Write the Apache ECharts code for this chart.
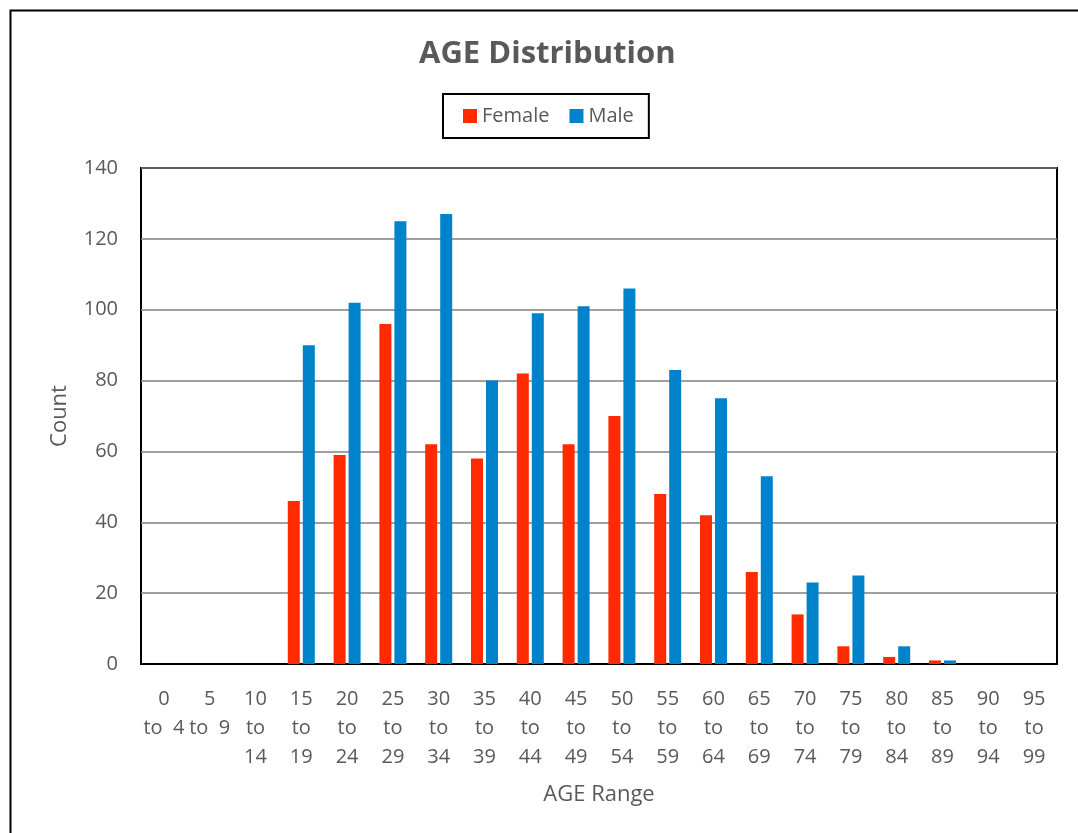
<!DOCTYPE html>
<html>
<head>
<meta charset="utf-8">
<script src="https://cdn.jsdelivr.net/npm/echarts@6/dist/echarts.min.js"></script>
<style>
html,body{margin:0;padding:0;background:#fff;}
#chart{width:1078px;height:833px;}
</style>
</head>
<body>
<div id="chart"></div>
<script>
const categories = ["0 to 4","5 to 9","10 to 14","15 to 19","20 to 24","25 to 29","30 to 34","35 to 39","40 to 44","45 to 49","50 to 54","55 to 59","60 to 64","65 to 69","70 to 74","75 to 79","80 to 84","85 to 89","90 to 94","95 to 99"];
const tickLabels = ["0\nto  4","5\nto  9","10\nto\n14","15\nto\n19","20\nto\n24","25\nto\n29","30\nto\n34","35\nto\n39","40\nto\n44","45\nto\n49","50\nto\n54","55\nto\n59","60\nto\n64","65\nto\n69","70\nto\n74","75\nto\n79","80\nto\n84","85\nto\n89","90\nto\n94","95\nto\n99"];
const female = [0,0,0,46,59,96,62,58,82,62,70,48,42,26,14,5,2,1,0,0];
const male = [0,0,0,90,102,125,127,80,99,101,106,83,75,53,23,25,5,1,0,0];
const yTicks = [0,20,40,60,80,100,120,140];

const FONT = "'Open Sans', sans-serif";
const GREY = '#595959';
const chart = echarts.init(document.getElementById('chart'), null, {renderer:'canvas'});
chart.setOption({
  animation: false,
  backgroundColor: '#fff',
  graphic: [{
    type: 'rect', left: 8, top: 8, silent: true,
    shape: {width: 1200, height: 1000},
    style: {fill: 'none', stroke: '#000', lineWidth: 2}
  }],
  title: {
    text: 'AGE Distribution',
    left: 419, top: 39, padding: 0,
    textStyle: {fontFamily: FONT, fontWeight: 'bold', fontSize: 31, color: GREY}
  },
  legend: {
    data: ['Female','Male'],
    left: 443, top: 94,
    padding: [12, 15, 12, 20],
    borderColor: '#000', borderWidth: 2,
    itemWidth: 14, itemHeight: 14, itemGap: 20,
    icon: 'rect',
    textStyle: {fontFamily: FONT, fontSize: 20, color: GREY}
  },
  grid: {
    left: 141, right: 21, top: 168, bottom: 169,
    show: true, borderColor: '#000', borderWidth: 2, backgroundColor: 'transparent'
  },
  xAxis: {
    type: 'category',
    data: categories,
    name: 'AGE Range',
    nameLocation: 'middle',
    nameGap: 120,
    nameTextStyle: {fontFamily: FONT, fontSize: 22, color: GREY},
    axisLine: {show: true, lineStyle: {color: '#000', width: 2}},
    axisTick: {show: false},
    axisLabel: {
      interval: 0, margin: 21, lineHeight: 29,
      fontFamily: FONT, fontSize: 20, color: GREY,
      formatter: function (v, i) { return tickLabels[categories.indexOf(v)]; }
    }
  },
  yAxis: {
    type: 'value',
    min: yTicks[0], max: yTicks[yTicks.length-1], interval: 20,
    name: 'Count',
    nameLocation: 'middle',
    nameGap: 70,
    nameTextStyle: {fontFamily: FONT, fontSize: 22, color: GREY},
    axisLine: {show: false},
    axisTick: {show: false},
    axisLabel: {margin: 23, fontFamily: FONT, fontSize: 20, color: GREY},
    splitLine: {show: true, lineStyle: {color: '#808080', width: 1.5}}
  },
  series: [
    {name: 'Female', type: 'bar', data: female, barWidth: 12, barGap: '25%',
     itemStyle: {color: '#FF2A00'}},
    {name: 'Male', type: 'bar', data: male, barWidth: 12, barGap: '25%',
     itemStyle: {color: '#0083CB'}}
  ]
});
</script>
</body>
</html>
